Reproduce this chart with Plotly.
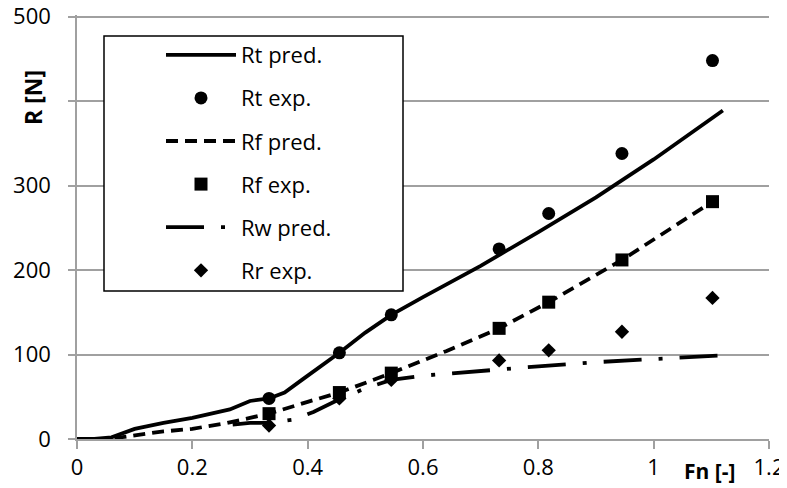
import plotly.graph_objects as go

# ---- data ----
fn_exp = [0.333, 0.455, 0.545, 0.732, 0.818, 0.945, 1.102]
rt_exp = [48, 102, 147, 225, 267, 338, 448]
rf_exp = [30, 55, 78, 131, 162, 212, 281]
rr_exp = [16, 48, 70, 93, 105, 127, 167]

fn_rt_pred = [0, 0.03, 0.06, 0.1, 0.15, 0.2, 0.265, 0.3, 0.333, 0.36, 0.39, 0.455, 0.5, 0.545,
              0.6, 0.7, 0.8, 0.9, 1.0, 1.12]
rt_pred = [0, 0, 2, 12, 19, 25, 35, 45, 48, 55, 70, 102, 126, 147, 168, 205, 245, 286, 331, 389]

fn_rf_pred = [0.065, 0.1, 0.15, 0.2, 0.26, 0.3, 0.333, 0.4, 0.455, 0.545, 0.64, 0.732, 0.818, 0.945, 1.102]
rf_pred = [1, 4, 9, 12, 19, 25, 30, 44, 55, 78, 104, 131, 162, 212, 281]

fn_rw_pred = [0.27, 0.3, 0.333, 0.376, 0.41, 0.455, 0.5, 0.545, 0.6, 0.7, 0.8, 0.9, 1.0, 1.12]
rw_pred = [17, 19, 19, 23, 32, 47, 60, 70, 75, 81, 86, 91, 95, 99]

x_ticks = [0, 0.2, 0.4, 0.6, 0.8, 1, 1.2]
x_tick_labels = ["0", "0.2", "0.4", "0.6", "0.8", "1", "1.2"]
y_ticks = [0, 100, 200, 300, 400, 500]
y_tick_labels = ["0", "100", "200", "300", "", "500"]  # 400 is covered by the axis title

FONT = "Open Sans"
BLACK = "#000000"
GRID = "#a0a0a0"

fig = go.Figure()
fig.add_trace(go.Scatter(x=fn_rt_pred, y=rt_pred, mode="lines", name="Rt pred.",
                         line=dict(color=BLACK, width=3.8), legendgroup="a"))
fig.add_trace(go.Scatter(x=fn_exp, y=rt_exp, mode="markers", name="Rt exp.",
                         marker=dict(symbol="circle", size=13, color=BLACK), legendgroup="b"))
fig.add_trace(go.Scatter(x=fn_rf_pred, y=rf_pred, mode="lines", name="Rf pred.",
                         line=dict(color=BLACK, width=3.8, dash="12px,7px"), legendgroup="c"))
fig.add_trace(go.Scatter(x=fn_exp, y=rf_exp, mode="markers", name="Rf exp.",
                         marker=dict(symbol="square", size=13, color=BLACK), legendgroup="d"))
fig.add_trace(go.Scatter(x=fn_rw_pred, y=rw_pred, mode="lines", name="Rw pred.",
                         line=dict(color=BLACK, width=3.8, dash="38px,17px,4px,17px"), legendgroup="e"))
fig.add_trace(go.Scatter(x=fn_exp, y=rr_exp, mode="markers", name="Rr exp.",
                         marker=dict(symbol="diamond", size=11, color=BLACK), legendgroup="f"))

# The page body has an 8px margin, so the figure is laid out in coordinates
# shifted by 8px from the screenshot.
OFF = 8
W, H = 787 - OFF, 488 - OFF
Y_TOP = 502  # a little above 500 so that the 500 gridline is kept
L, R, B = 77 - OFF, 18, 49
base = H - B                      # y pixel of the x axis (figure coordinates)
ph = round(Y_TOP * 0.8446)        # 0.8446 px per N, as in the reference
T = base - ph
pw = W - L - R

def px(sx):  # screen x -> paper fraction
    return (sx - OFF - L) / pw

def py(sy):  # screen y -> paper fraction
    return (base - (sy - OFF)) / ph

# legend frame
fig.add_shape(type="rect", xref="paper", yref="paper",
              x0=px(104), x1=px(403), y0=py(291), y1=py(36),
              line=dict(color=BLACK, width=1.5), fillcolor="white", layer="above")

fig.update_layout(
    width=W, height=H,
    margin=dict(l=L, r=R, t=T, b=B, autoexpand=False),
    paper_bgcolor="white", plot_bgcolor="white",
    font=dict(family=FONT, size=22, color=BLACK),
    showlegend=True,
    legend=dict(x=px(161), y=py(34), xanchor="left", yanchor="top",
                bgcolor="rgba(0,0,0,0)", borderwidth=0, itemwidth=70,
                tracegroupgap=11.5, font=dict(family=FONT, size=22, color=BLACK),
                itemclick=False, itemdoubleclick=False),
    xaxis=dict(range=[0, 1.2], tickvals=x_ticks, ticktext=x_tick_labels, automargin=False,
               showgrid=False, zeroline=False, showline=True, linecolor=GRID, linewidth=1.5,
               ticks="outside", ticklen=8, tickcolor=GRID, tickwidth=1.5,
               ticklabeloverflow="allow",
               tickfont=dict(family=FONT, size=22, color=BLACK)),
    yaxis=dict(range=[0, Y_TOP], tickvals=y_ticks, ticktext=y_tick_labels, automargin=False,
               showgrid=True, gridcolor=GRID, gridwidth=1.5, zeroline=False,
               showline=True, linecolor=GRID, linewidth=1.5,
               ticks="outside", ticklen=7, tickcolor=GRID, tickwidth=1.5,
               ticklabeloverflow="allow", ticklabelstandoff=13,
               tickfont=dict(family=FONT, size=22, color=BLACK)),
)

fig.add_annotation(text="<b>Fn [-]</b>", xref="x", yref="paper", x=1.096, y=py(471),
                   showarrow=False, xanchor="center", yanchor="middle",
                   font=dict(family=FONT, size=21, color=BLACK))
fig.add_annotation(text="<b>R [N]</b>", xref="paper", yref="paper", x=px(33), y=py(98),
                   showarrow=False, textangle=-90, xanchor="center", yanchor="middle",
                   font=dict(family=FONT, size=23, color=BLACK))

fig.write_html("out.html")
